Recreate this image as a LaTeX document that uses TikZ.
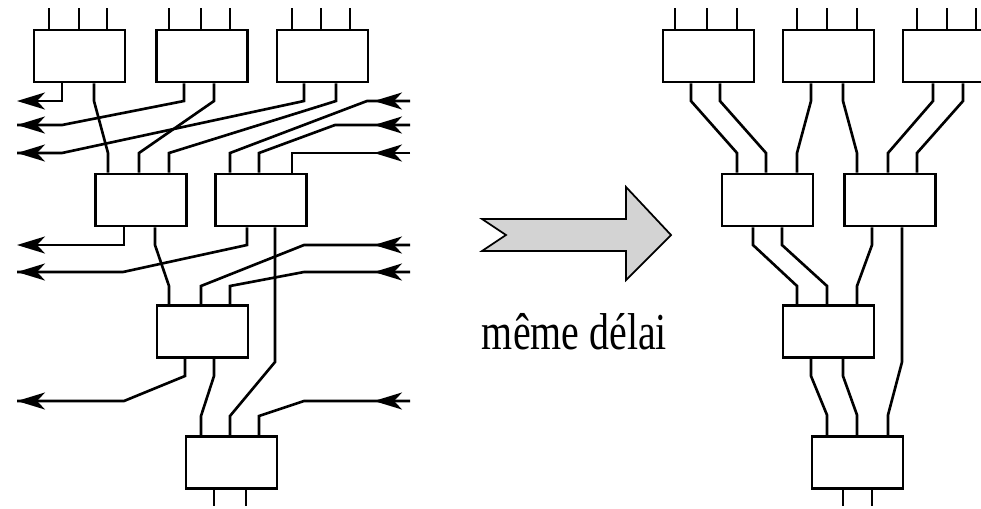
\documentclass[tikz,border=0pt]{standalone}
\usepackage{fontspec}
\setmainfont{Liberation Serif}
\usetikzlibrary{arrows.meta}
\begin{document}
\begin{tikzpicture}[x=0.02cm,y=-0.02cm,
  wire/.style={line width=1.5pt,line join=miter},
  box/.style={draw,line width=1.5pt,minimum width=1.82cm,minimum height=1.04cm,inner sep=0pt},
  arr/.style={wire,-{Stealth[length=0.56cm,width=0.34cm,inset=0.16cm]}},
  bigarrow/.style={draw,line width=1pt,fill={rgb,255:red,211;green,211;blue,211},line join=miter}]
\useasboundingbox (0,0) rectangle (981,508);
\clip (0,0) rectangle (981,508);
% ---------------- left circuit ----------------
\node[box] (A) at (79.5,56) {};
\node[box] (B) at (202,56) {};
\node[box] (C) at (322.5,56) {};
\node[box] (D) at (141,200) {};
\node[box] (E) at (261,200) {};
\node[box] (F) at (202.5,331.5) {};
\node[box] (G) at (231.5,462.5) {};
% free ends
\coordinate (oa) at (17,101);
\coordinate (ob) at (17,125);
\coordinate (oc) at (17,153);
\coordinate (od) at (17,245);
\coordinate (oe) at (17,272);
\coordinate (of) at (17,401);
\coordinate (ia) at (410,101); \coordinate (ta) at (374,101);
\coordinate (ib) at (410,125); \coordinate (tb) at (374,125);
\coordinate (ic) at (410,153); \coordinate (tc) at (374,153);
\coordinate (id) at (410,245); \coordinate (td) at (374,245);
\coordinate (ie) at (410,272); \coordinate (te) at (374,272);
\coordinate (ig) at (410,401); \coordinate (tg) at (374,401);
% top input stubs
\foreach \x in {49,79,107} \draw[wire] (A.north -| \x,0) -- (\x,8);
\foreach \x in {169,201,230} \draw[wire] (B.north -| \x,0) -- (\x,8);
\foreach \x in {292,321,350} \draw[wire] (C.north -| \x,0) -- (\x,8);
% outputs of A, B, C
\draw[arr] (A.south -| 62,0) |- (oa);
\draw[wire] (A.south -| 94,0) -- (94,101) -- (108,153) -- (D.north -| 108,0);
\draw[wire] (B.south -| 184,0) -- (184,101) -- (62,125) -- (ob);
\draw[arr] (62,125) -- (ob);
\draw[wire] (B.south -| 214,0) -- (214,101) -- (139,153) -- (D.north -| 139,0);
\draw[wire] (C.south -| 304,0) -- (304,101) -- (62,153) -- (oc);
\draw[arr] (62,153) -- (oc);
\draw[wire] (C.south -| 336,0) -- (336,101) -- (169,153) -- (D.north -| 169,0);
% external inputs to E
\draw[wire] (E.north -| 230,0) -- (230,153) -- (367,101) -- (ia);
\draw[arr] (ia) -- (ta);
\draw[wire] (E.north -| 259,0) -- (259,153) -- (335,125) -- (ib);
\draw[arr] (ib) -- (tb);
\draw[wire] (E.north -| 292,0) |- (ic);
\draw[arr] (ic) -- (tc);
% outputs of D, E
\draw[arr] (D.south -| 124,0) |- (od);
\draw[wire] (D.south -| 155,0) -- (155,245) -- (169,286) -- (F.north -| 169,0);
\draw[wire] (E.south -| 247,0) -- (247,245) -- (123,272) -- (oe);
\draw[arr] (123,272) -- (oe);
\draw[wire] (E.south -| 275,0) -- (275,362) -- (230,416) -- (G.north -| 230,0);
% external inputs to F
\draw[wire] (F.north -| 201,0) -- (201,286) -- (304,245) -- (id);
\draw[arr] (id) -- (td);
\draw[wire] (F.north -| 230,0) -- (230,286) -- (304,272) -- (ie);
\draw[arr] (ie) -- (te);
% outputs of F
\draw[wire] (F.south -| 185,0) -- (185,376) -- (124,401) -- (of);
\draw[arr] (124,401) -- (of);
\draw[wire] (F.south -| 214,0) -- (214,376) -- (201,416) -- (G.north -| 201,0);
% external input to G
\draw[wire] (G.north -| 259,0) -- (259,416) -- (304,401) -- (ig);
\draw[arr] (ig) -- (tg);
% outputs of G
\foreach \x in {214,246} \draw[wire] (G.south -| \x,0) -- (\x,506);
% ---------------- big arrow and label ----------------
\draw[bigarrow] (482,219) -- (506,235) -- (482,251) -- (626,251) -- (626,280)
  -- (671,235) -- (626,187) -- (626,219) -- cycle;
\node[anchor=base,inner sep=0pt,xscale=0.77,font=\fontsize{29.5}{32}\selectfont] (lbl) at (574.5,349) {même délai};
% ---------------- right circuit ----------------
\node[box] (A2) at (708.5,56) {};
\node[box] (B2) at (828.5,56) {};
\node[box] (C2) at (948.5,56) {};
\node[box] (D2) at (767.5,200) {};
\node[box] (E2) at (890,200) {};
\node[box] (F2) at (828.5,331.5) {};
\node[box] (G2) at (857.5,462.5) {};
\foreach \x in {675,707,737} \draw[wire] (A2.north -| \x,0) -- (\x,8);
\foreach \x in {797,827,857} \draw[wire] (B2.north -| \x,0) -- (\x,8);
\foreach \x in {917,947,976} \draw[wire] (C2.north -| \x,0) -- (\x,8);
\draw[wire] (A2.south -| 691,0) -- (691,101) -- (737,153) -- (D2.north -| 737,0);
\draw[wire] (A2.south -| 720,0) -- (720,101) -- (766,153) -- (D2.north -| 766,0);
\draw[wire] (B2.south -| 811,0) -- (811,101) -- (797,153) -- (D2.north -| 797,0);
\draw[wire] (B2.south -| 843,0) -- (843,101) -- (857,153) -- (E2.north -| 857,0);
\draw[wire] (C2.south -| 933,0) -- (933,101) -- (888,153) -- (E2.north -| 888,0);
\draw[wire] (C2.south -| 963,0) -- (963,101) -- (917,153) -- (E2.north -| 917,0);
\draw[wire] (D2.south -| 753,0) -- (753,245) -- (797,286) -- (F2.north -| 797,0);
\draw[wire] (D2.south -| 782,0) -- (782,245) -- (827,286) -- (F2.north -| 827,0);
\draw[wire] (E2.south -| 872,0) -- (872,245) -- (857,286) -- (F2.north -| 857,0);
\draw[wire] (E2.south -| 902,0) -- (902,362) -- (888,415) -- (G2.north -| 888,0);
\draw[wire] (F2.south -| 811,0) -- (811,376) -- (827,415) -- (G2.north -| 827,0);
\draw[wire] (F2.south -| 843,0) -- (843,376) -- (857,415) -- (G2.north -| 857,0);
\foreach \x in {843,872} \draw[wire] (G2.south -| \x,0) -- (\x,506);
\end{tikzpicture}
\end{document}
